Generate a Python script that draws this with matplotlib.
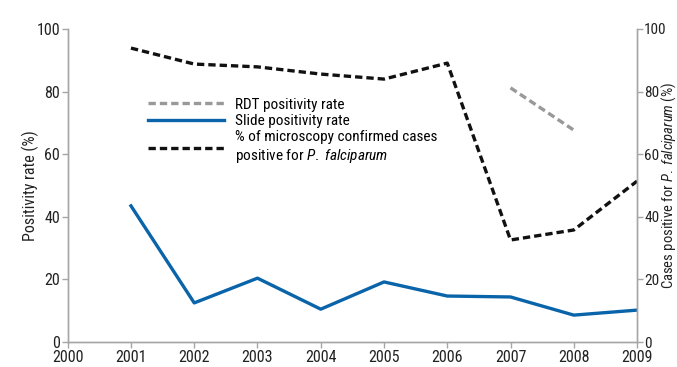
import matplotlib
matplotlib.use("Agg")
import matplotlib.pyplot as plt
from matplotlib import font_manager

fl = font_manager.fontManager.ttflist
names = {f.name for f in fl}
fam = None
for cand in ["Liberation Sans Narrow", "Roboto Condensed", "Open Sans Condensed", "Noto Sans Condensed"]:
    if cand in names:
        fam = cand
        break
stretch = 'normal'
if fam is None:
    fam = "DejaVu Sans"
    if any(f.name == "DejaVu Sans" and str(f.stretch) in ('condensed', '300', 'semi-condensed') for f in fl):
        stretch = 'condensed'
plt.rcParams['font.family'] = [fam, 'DejaVu Sans']
plt.rcParams['font.stretch'] = stretch
plt.rcParams['mathtext.fontset'] = 'custom'
plt.rcParams['mathtext.rm'] = fam
plt.rcParams['mathtext.it'] = fam + ':italic'

years = [2000, 2001, 2002, 2003, 2004, 2005, 2006, 2007, 2008, 2009]
slide_years = [2001, 2002, 2003, 2004, 2005, 2006, 2007, 2008, 2009]
slide_rate = [43.5, 12.5, 20.4, 10.5, 19.2, 14.7, 14.4, 8.6, 10.2]
micro_years = [2001, 2002, 2003, 2004, 2005, 2006, 2007, 2008, 2009]
micro_pf = [93.9, 88.8, 87.9, 85.6, 84.0, 89.1, 32.6, 35.8, 51.4]
rdt_years = [2007, 2008]
rdt_rate = [81.2, 67.7]
yticks = [0, 20, 40, 60, 80, 100]

fig = plt.figure(figsize=(6.77, 3.67), dpi=100)
ax = fig.add_axes([0.1, 0.068, 0.841, 0.853])
ax2 = ax.twinx()

grey = '#a6a6a6'
blue = '#0a64aa'
txt = '#222222'

l1, = ax.plot(rdt_years, rdt_rate, color='#999999', lw=2.4, dashes=(2.2, 1.2), label='RDT positivity rate')
l2, = ax.plot(slide_years, slide_rate, color=blue, lw=2.4, label='Slide positivity rate')
l3, = ax.plot(micro_years, micro_pf, color='#111111', lw=2.4, dashes=(2.2, 1.2),
              label='% of microscopy confirmed cases\npositive for $\\it{P.}$ $\\it{falciparum}$')

for a in (ax, ax2):
    a.set_xlim(2000, 2009)
    a.set_ylim(0, 100)
    a.set_yticks(yticks)
    a.spines['top'].set_visible(False)
    for s in ['left', 'right', 'bottom']:
        a.spines[s].set_color(grey)
        a.spines[s].set_linewidth(1.0)
    a.tick_params(colors=grey, length=4, width=1.0, labelcolor=txt, labelsize=11.5, pad=1.5)
ax2.tick_params(labelsize=11, pad=1)

ax.set_xticks(years)
ax.set_xticklabels([str(y) for y in years])
ymid = 0.068 + 0.853 / 2
fig.text(30 / 677, ymid, 'Positivity rate (%)', rotation=90, ha='center', va='center',
         fontsize=11.5, color=txt)
fig.text(668.5 / 677, ymid, 'Cases positive for $\\it{P.}$ $\\it{falciparum}$ (%)', rotation=90,
         ha='center', va='center', fontsize=10.5, color=txt)

leg = ax.legend(handles=[l1, l2, l3], loc='upper left', bbox_to_anchor=(0.13, 0.8),
                frameon=False, fontsize=11, handlelength=5.0, handletextpad=0.7,
                labelspacing=0.15, borderaxespad=0)

fig.savefig('out.png', dpi=100)
